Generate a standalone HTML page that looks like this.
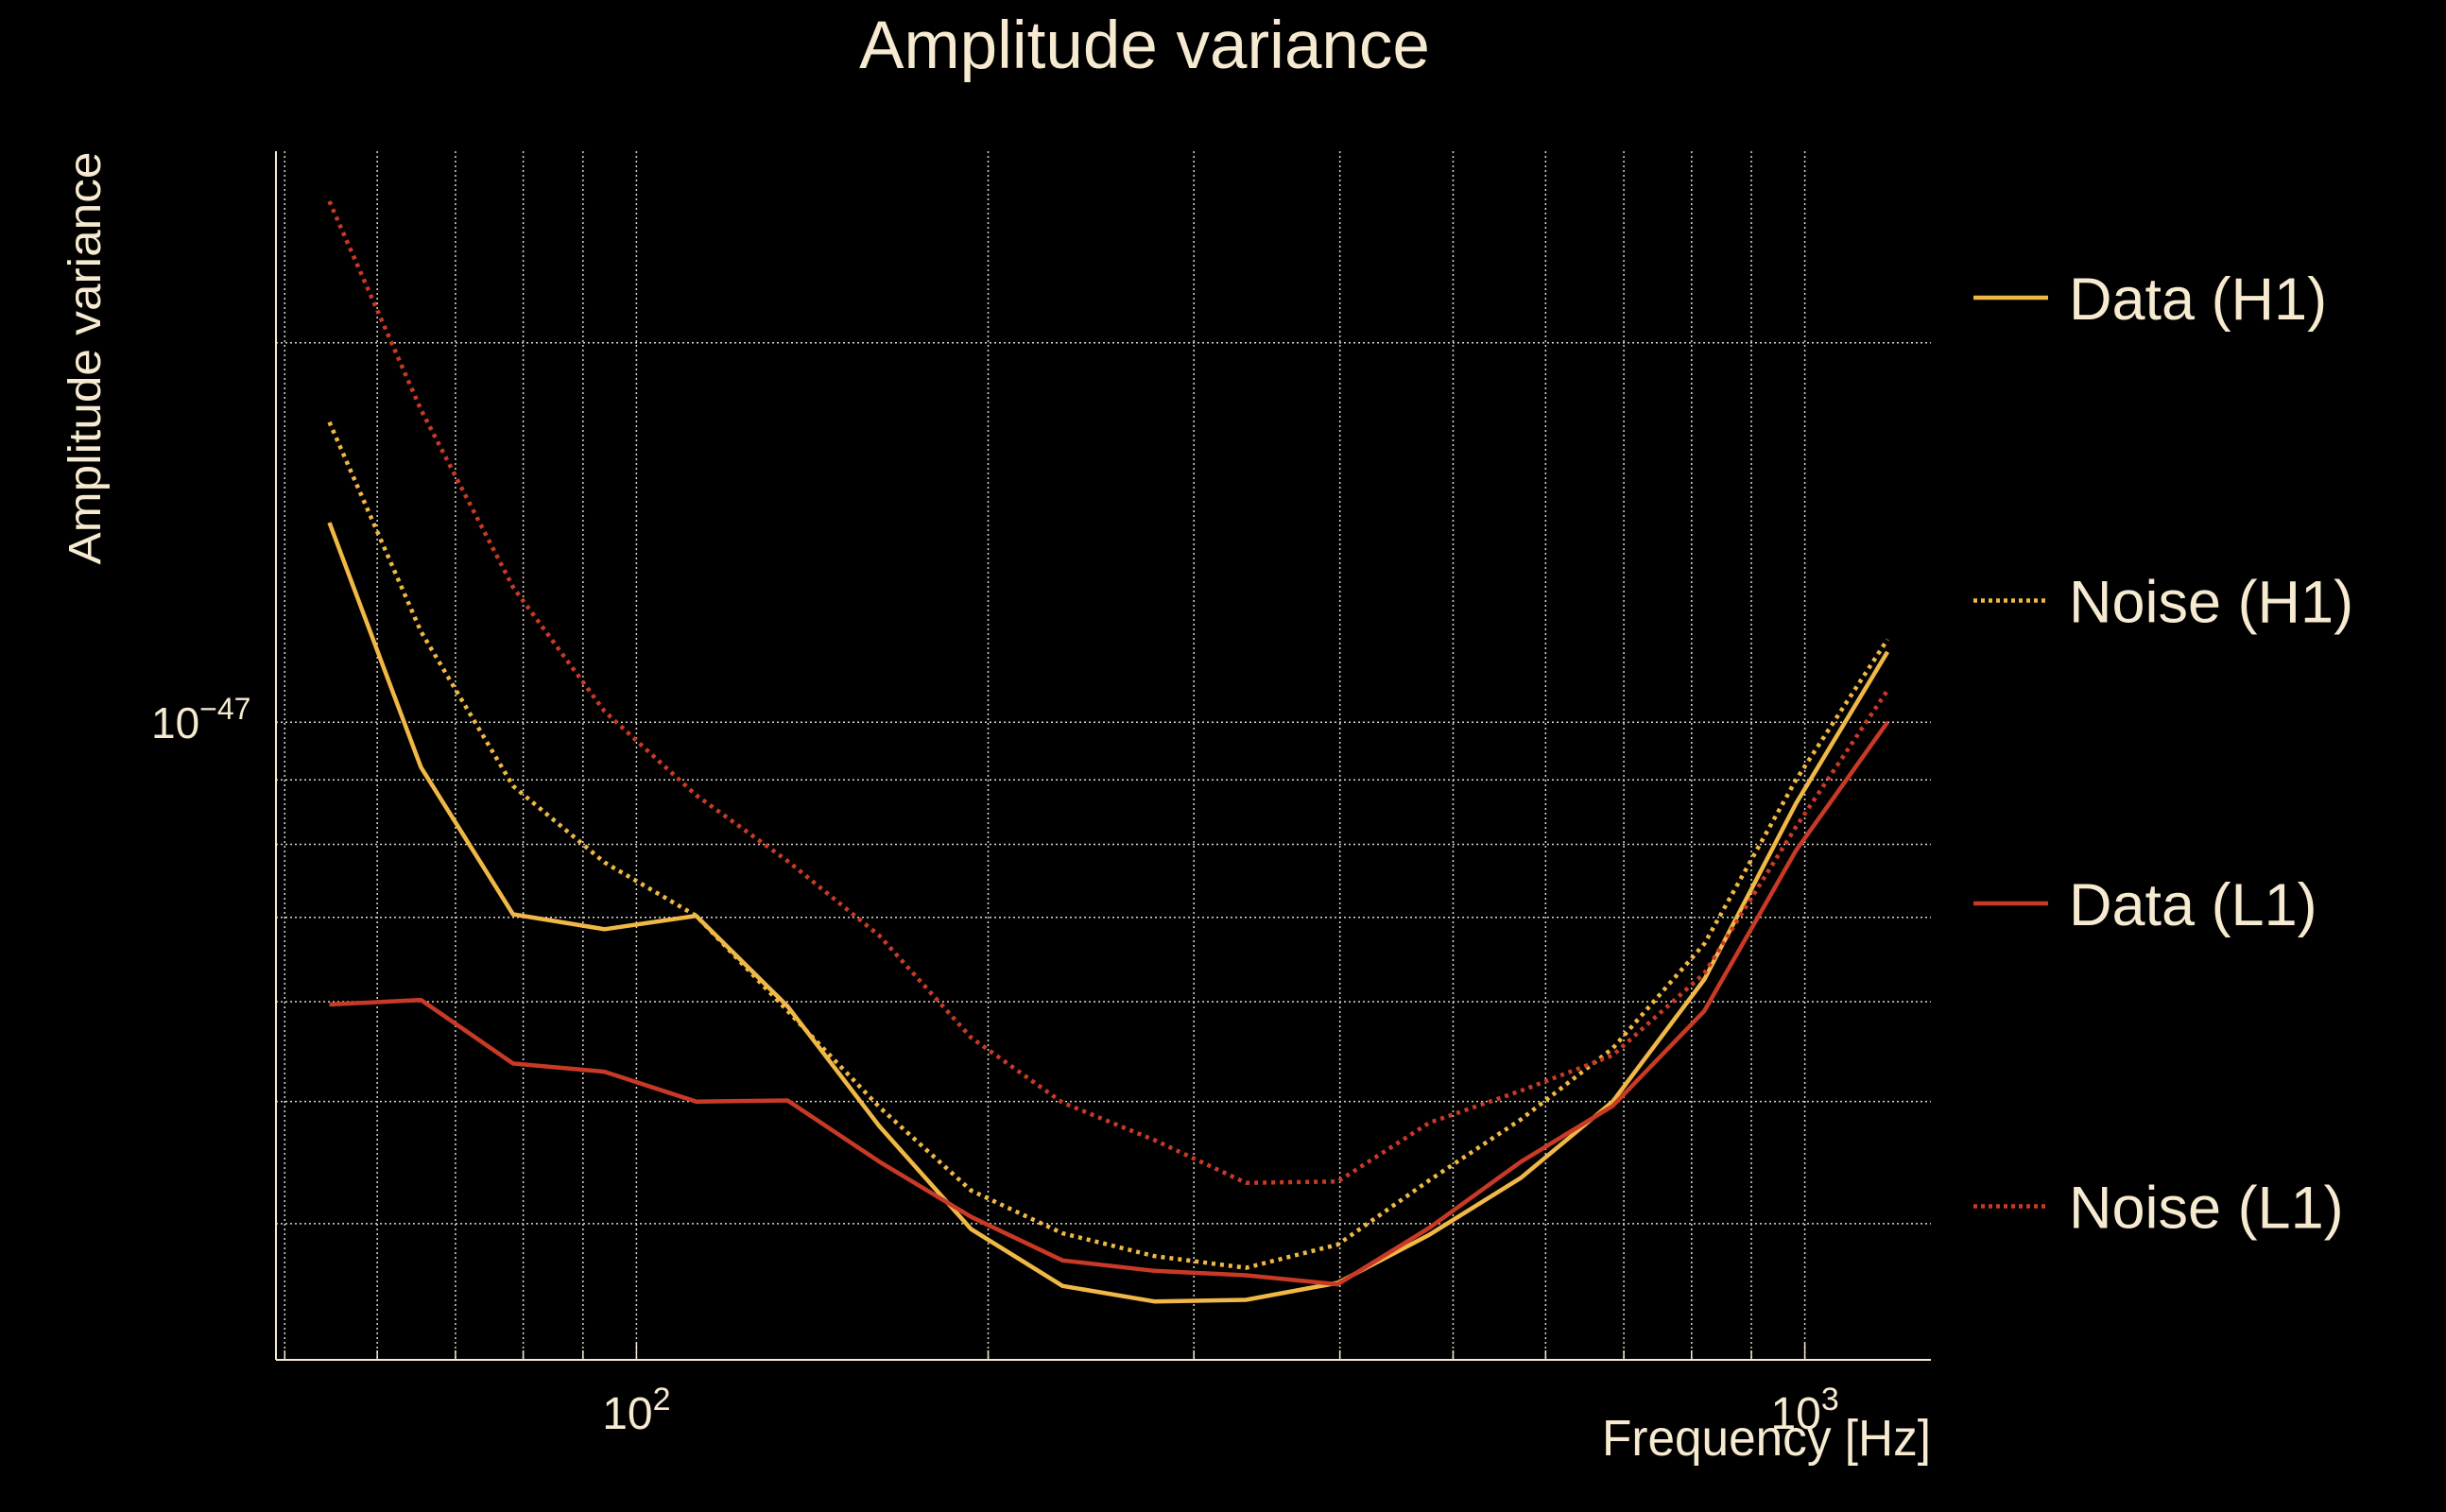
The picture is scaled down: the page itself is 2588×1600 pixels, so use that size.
<!DOCTYPE html>
<html><head><meta charset="utf-8">
<style>
html,body{margin:0;padding:0;background:#000;}
svg{display:block;}
text{font-family:"Liberation Sans",sans-serif;fill:#f6ead0;}
</style></head>
<body>
<svg id="chart" width="2588" height="1600" viewBox="0 0 2588 1600" xmlns="http://www.w3.org/2000/svg">
<rect width="2588" height="1600" fill="#000"/>
<text x="1211" y="72" font-size="71" text-anchor="middle">Amplitude variance</text>
<g id="grid"></g>
<g id="axes"></g>
<g id="series"></g>
<text transform="translate(106,379) rotate(-90)" font-size="48" text-anchor="middle" textLength="437" lengthAdjust="spacingAndGlyphs">Amplitude variance</text>
<text x="2043" y="1540" font-size="54" text-anchor="end" textLength="348" lengthAdjust="spacingAndGlyphs">Frequency [Hz]</text>
<g id="legend"></g>
</svg>
<script>
// Data (amplitude variance in units of 1e-48)
const freqs = [54.6, 65.4, 78.4, 93.9, 112.5, 134.7, 161.4, 193.4, 231.6, 277.5, 332.4, 398.3, 477.1, 571.6, 684.8, 820.4, 982.8, 1177];
const dataH1 = [14.4, 9.21, 7.04, 6.85, 7.02, 5.95, 4.78, 3.96, 3.57, 3.47, 3.48, 3.59, 3.92, 4.35, 5.00, 6.25, 8.62, 11.37];
const noiseH1 = [17.3, 11.8, 8.90, 7.74, 7.02, 5.90, 4.95, 4.25, 3.93, 3.77, 3.69, 3.85, 4.33, 4.84, 5.51, 6.67, 9.00, 11.63];
const dataL1 = [5.97, 6.02, 5.36, 5.28, 5.00, 5.01, 4.48, 4.05, 3.74, 3.67, 3.64, 3.58, 3.97, 4.48, 4.96, 5.90, 7.91, 10.0];
const noiseL1 = [25.9, 17.7, 12.8, 10.2, 8.75, 7.76, 6.77, 5.62, 4.99, 4.66, 4.31, 4.32, 4.81, 5.10, 5.44, 6.32, 8.26, 10.6];
const xGridVals = [50, 60, 70, 80, 90, 100, 200, 300, 400, 500, 600, 700, 800, 900, 1000];
const yGridVals = [20, 10, 9, 8, 7, 6, 5, 4];
const seriesNames = ["Data (H1)", "Noise (H1)", "Data (L1)", "Noise (L1)"];

const NS = "http://www.w3.org/2000/svg";
const L = 292, R = 2043, T = 160, B = 1439;
function xs(f){ return 673.4 + (Math.log10(f) - 2) * 1236.2; }
function ys(v){ return 764.2 - (Math.log10(v) - 1) * 1333.6; }
function mk(tag, attrs, parent){
  const e = document.createElementNS(NS, tag);
  for (const k in attrs) e.setAttribute(k, attrs[k]);
  parent.appendChild(e);
  return e;
}
const grid = document.getElementById('grid');
const axes = document.getElementById('axes');
const series = document.getElementById('series');
const legend = document.getElementById('legend');

xGridVals.forEach(f => {
  const x = xs(f);
  const ln = mk('line', {x1:x, x2:x, y1:T, y2:B, stroke:'#d8d8d0', 'stroke-width':1.5, 'stroke-dasharray':'2 3'}, grid);
  
  
  const tk = mk('line', {x1:x, x2:x, y1:B, y2:B-(f===100||f===1000?18:10), stroke:'#f6ead0', 'stroke-width':1.5}, axes);
  
  
});
yGridVals.forEach(v => {
  const y = ys(v);
  const ln = mk('line', {x1:L, x2:R, y1:y, y2:y, stroke:'#d8d8d0', 'stroke-width':1.5, 'stroke-dasharray':'2 3'}, grid);
  
  
});
const ax1 = mk('line', {x1:L, x2:L, y1:T, y2:B, stroke:'#f6ead0', 'stroke-width':2}, axes);


const ax2 = mk('line', {x1:L, x2:R, y1:B, y2:B, stroke:'#f6ead0', 'stroke-width':2}, axes);



function powLabel(x, y, exp, name){
  const t = mk('text', {x:x, y:y, 'font-size':48, 'text-anchor':'middle'}, axes);
  
  
  t.textContent = '10';
  const s = mk('tspan', {dy:-20, 'font-size':34}, t);
  s.textContent = exp;
  return t;
}
powLabel(xs(100), 1512, '2', 'x-tick-label-100');
powLabel(xs(1000), 1512, '3', 'x-tick-label-1000');
const yl = mk('text', {x:160, y:ys(10)+17, 'font-size':46}, axes);


yl.textContent = '10';
const ys1 = mk('tspan', {dy:-20, 'font-size':32}, yl);
ys1.textContent = '\u221247';

const styles = [
  {data:dataH1, color:'#f0b846', dash:null, name:'data-h1-line'},
  {data:noiseH1, color:'#f0b846', dash:'4 5', name:'noise-h1-line'},
  {data:dataL1, color:'#c83a26', dash:null, name:'data-l1-line'},
  {data:noiseL1, color:'#c83a26', dash:'4 5', name:'noise-l1-line'}
];
styles.forEach((s, i) => {
  const d = s.data.map((v, j) => (j ? 'L' : 'M') + xs(freqs[j]).toFixed(1) + ' ' + ys(v).toFixed(1)).join(' ');
  const attrs = {d:d, fill:'none', stroke:s.color, 'stroke-width':4.5, 'stroke-linejoin':'round'};
  if (s.dash) attrs['stroke-dasharray'] = s.dash;
  const p = mk('path', attrs, series);
  
  

  const ly = 315 + i * 320.5;
  const la = {x1:2088, x2:2167, y1:ly, y2:ly, stroke:s.color, 'stroke-width':4.5};
  if (s.dash) la['stroke-dasharray'] = '4 4';
  const ll = mk('line', la, legend);
  
  
  const lt = mk('text', {x:2189, y:ly + 23, 'font-size':63}, legend);
  
  
  lt.textContent = seriesNames[i];
});
</script>
</body></html>
